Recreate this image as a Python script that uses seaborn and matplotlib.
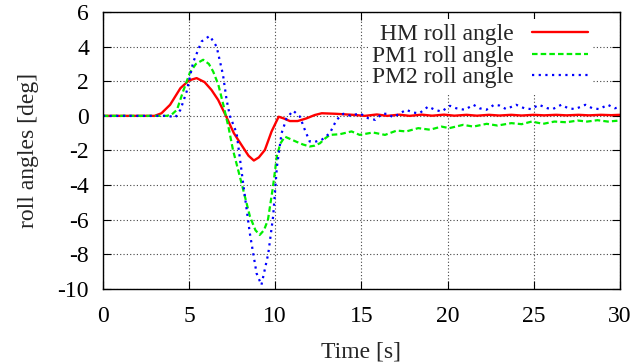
import pandas as pd
import seaborn as sns
import matplotlib.pyplot as plt

# values
t_hm = [0, 3.0, 3.4, 3.9, 4.5, 5.0, 5.44, 5.9, 6.3, 6.69, 7.14, 7.6, 8.1, 8.45, 8.76,
        9.05, 9.4, 9.79, 10.2, 10.5, 10.85, 11.3, 11.8, 12.3, 12.7, 13.5, 14.5,
        15.2, 15.9, 16.5, 17.2, 17.8, 18.5, 19.1, 19.8, 20.4, 21.1, 21.7, 22.4, 23.0,
        23.7, 24.3, 25.0, 25.6, 26.3, 26.9, 27.6, 28.2, 28.9, 29.5, 30]
hm_roll = [0, 0, 0.15, 0.64, 1.6, 2.05, 2.18, 1.95, 1.5, 0.92, 0.0, -1.0, -1.77, -2.3, -2.58,
           -2.4, -1.97, -0.9, -0.05, -0.15, -0.3, -0.3, -0.15, 0.05, 0.15, 0.12, 0.06,
           0.0, 0.08, 0.0, 0.07, 0.0, 0.07, 0.01, 0.07, 0.01, 0.06, 0.01, 0.06, 0.02,
           0.06, 0.02, 0.06, 0.03, 0.06, 0.03, 0.06, 0.03, 0.06, 0.04, 0.06]

t_pm1 = [0, 3.7, 4.0, 4.3, 4.65, 5.05, 5.4, 5.82, 6.15, 6.4, 6.7, 7.0, 7.3, 7.55, 8.05,
         8.53, 8.85, 9.1, 9.35, 9.58, 9.87, 10.1, 10.3, 10.56, 10.9, 11.24, 11.6, 12.0,
         12.3, 12.6, 12.9, 13.17, 13.75, 14.43, 14.9, 15.67, 16.37, 17.05, 17.6, 18.3,
         18.98, 19.65, 20.1, 20.9, 21.5, 22.27, 22.9, 23.7, 24.3, 24.88, 25.55, 26.2,
         26.9, 27.55, 28.1, 28.7, 29.3, 30]
pm1_roll = [0, 0, 0.08, 0.35, 1.4, 2.5, 3.0, 3.24, 3.0, 2.56, 1.8, 0.6, -0.7, -1.97, -3.9,
            -5.8, -6.6, -6.88, -6.6, -6.0, -4.1, -2.3, -1.6, -1.2, -1.35, -1.5, -1.65, -1.77,
            -1.72, -1.58, -1.3, -1.1, -1.06, -0.9, -1.1, -0.96, -1.1, -0.85, -0.9, -0.71,
            -0.8, -0.62, -0.71, -0.52, -0.62, -0.46, -0.56, -0.42, -0.48, -0.33, -0.46, -0.33,
            -0.37, -0.27, -0.33, -0.25, -0.33, -0.27]

t_pm2 = [0, 3.8, 4.2, 4.5, 4.86, 5.24, 5.73, 6.2, 6.6, 6.97, 7.18, 7.37, 7.76, 8.14, 8.53,
         8.92, 9.2, 9.6, 9.88, 10.1, 10.37, 10.66, 11.04, 11.43, 11.72, 12.0, 12.3, 12.69,
         13.17, 13.56, 13.95, 14.4, 14.9, 15.4, 15.8, 16.2, 16.5, 16.85, 17.2, 17.6, 18.0,
         18.37, 18.88, 19.26, 19.65, 20.14, 20.5, 21.0, 21.5, 21.85, 22.25, 22.7, 23.0,
         23.4, 23.98, 24.45, 24.85, 25.3, 25.8, 26.1, 26.6, 27.0, 27.4, 28.0, 28.4, 28.8,
         29.3, 29.7, 30]
pm2_roll = [0, 0, -0.1, 0.35, 1.4, 3.1, 4.3, 4.62, 4.0, 2.37, 0.92, 0.0, -1.0, -3.9, -6.8,
            -9.1, -9.77, -7.94, -5.8, -2.93, -1.0, -0.14, 0.3, -0.04, -0.81, -1.48, -1.5, -1.39,
            -1.0, -0.23, 0.12, 0.0, 0.15, -0.14, -0.23, 0.12, 0.12, -0.08, 0.12, 0.35, 0.19,
            0.15, 0.54, 0.35, 0.25, 0.58, 0.44, 0.35, 0.64, 0.44, 0.35, 0.64, 0.6,
            0.39, 0.64, 0.44, 0.39, 0.64, 0.44, 0.39, 0.64, 0.44, 0.39, 0.64, 0.44, 0.39,
            0.64, 0.44, 0.5]

x_ticks = [0, 5, 10, 15, 20, 25, 30]
y_ticks = [-10, -8, -6, -4, -2, 0, 2, 4, 6]


def main():
	sns.set_theme(style='ticks')
	plt.rcParams['font.family'] = ['Liberation Serif', 'DejaVu Serif']
	plt.rcParams['axes.unicode_minus'] = False

	fig = plt.figure(figsize=(6.35, 3.62), dpi=100)
	ax = fig.add_axes([0.162, 0.2017, 0.8142, 0.7652])

	hm = pd.DataFrame({'t': t_hm, 'roll': hm_roll})
	pm1 = pd.DataFrame({'t': t_pm1, 'roll': pm1_roll})
	pm2 = pd.DataFrame({'t': t_pm2, 'roll': pm2_roll})

	sns.lineplot(data=hm, x='t', y='roll', ax=ax, color='#ff0000', lw=1.7,
	             label='HM roll angle')
	sns.lineplot(data=pm1, x='t', y='roll', ax=ax, color='#00ee00', lw=1.6,
	             linestyle=(0, (2.5, 1.4)), label='PM1 roll angle')
	sns.lineplot(data=pm2, x='t', y='roll', ax=ax, color='#0000ff', lw=1.6,
	             linestyle=(0, (1.0, 2.0)), label='PM2 roll angle')

	ax.set_xlim(0, 30)
	ax.set_ylim(-10, 6)
	ax.set_xticks(x_ticks)
	ax.set_yticks(y_ticks)
	ax.tick_params(direction='in', length=6, width=0.8, top=True, right=True,
	               labelsize=17, pad=10, colors='black')
	ax.tick_params(axis='x', pad=12)
	ax.grid(True, color='#444444', linestyle=(0, (1, 2)), lw=0.8)
	ax.set_axisbelow(True)
	for s in ax.spines.values():
		s.set_color('black')
		s.set_linewidth(1.0)

	ax.set_xlabel('Time [s]', fontsize=17, labelpad=11)
	ax.set_ylabel('roll angles [deg]', fontsize=17, labelpad=13)

	leg = ax.legend(loc='upper right', bbox_to_anchor=(0.962, 1.0), fontsize=17,
	                markerfirst=False, frameon=True, handlelength=2.4,
	                handletextpad=0.75, labelspacing=0.0, borderpad=0.2,
	                borderaxespad=0.3, fancybox=False)
	leg.get_frame().set_facecolor('white')
	leg.get_frame().set_edgecolor('none')
	leg.get_frame().set_alpha(1)

	fig.savefig('out.png', dpi=100)


if __name__ == '__main__':
	main()
